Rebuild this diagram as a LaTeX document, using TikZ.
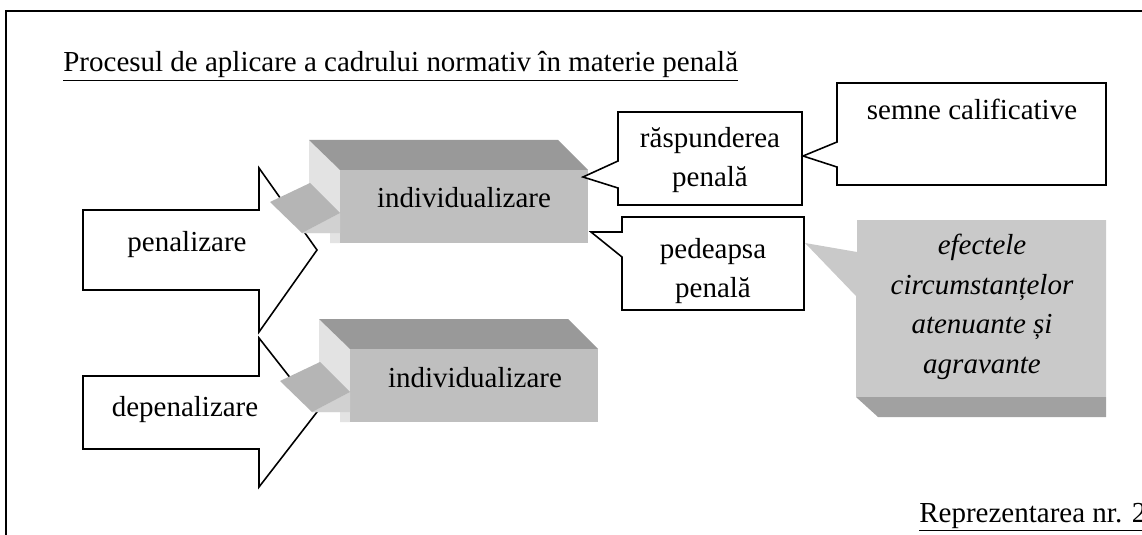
\documentclass[tikz,border=0pt]{standalone}
\usepackage{fontspec}
\setmainfont{Liberation Serif}
\usepackage{tikz}
\definecolor{boxtop}{gray}{0.6}
\definecolor{boxfront}{gray}{0.75}
\definecolor{boxside}{gray}{0.89}
\definecolor{boxflap}{gray}{0.71}
\definecolor{flapedge}{gray}{0.82}
\definecolor{calloutfill}{gray}{0.79}
\definecolor{calloutbase}{gray}{0.63}

\begin{document}
\begin{tikzpicture}[scale=0.2]
\tikzstyle{every node}+=[inner sep=0pt, align=center, font=\fontsize{16.5}{21.9}\selectfont]
\useasboundingbox (0,0) rectangle (114.2,-53.5);
\draw [black, line width=1.1pt] (0.6,-53.5) -- (0.6,-1.1) -- (114.6,-1.1);
\draw (6.3,-7.2) node [anchor=base west] (title) {\underline{Procesul de aplicare a cadrului normativ în materie penală}};
\draw [black, line width=0.9pt, fill=white] (8.3,-21) -- (25.9,-21) -- (25.9,-16.8) -- (31.7,-25) -- (25.9,-33.2) -- (25.9,-29) -- (8.3,-29) -- cycle;
\draw (18.7,-24.5) node (pen) {penalizare};
\draw [black, line width=0.9pt, fill=white] (8.3,-37.6) -- (25.9,-37.6) -- (25.9,-33.8) -- (31.7,-41.2) -- (25.9,-48.7) -- (25.9,-44.9) -- (8.3,-44.9) -- cycle;
\draw (18.5,-41) node (depen) {depenalizare};
\fill [boxside] (30.9,-14) -- (34,-17) -- (34,-24.3) -- (33,-24.3) -- (33,-23.3) -- (30.2,-23.3) -- (30.9,-18.3) -- cycle;
\fill [boxtop] (30.9,-14) -- (55.8,-14) -- (58.8,-17) -- (34,-17) -- cycle;
\fill [boxfront] (34,-17) rectangle (58.8,-24.3);
\fill [flapedge] (30.2,-23.3) -- (34,-21.3) -- (34,-23.3) -- cycle;
\fill [boxflap] (27,-20.2) -- (31,-18.3) -- (34,-21.3) -- (30.2,-23.3) -- cycle;
\draw (46.4,-19.8) node (indiv1) {individualizare};
\fill [boxside] (31.9,-31.9) -- (35,-34.9) -- (35,-42.2) -- (34,-42.2) -- (34,-41.2) -- (31.2,-41.2) -- (31.9,-36.2) -- cycle;
\fill [boxtop] (31.9,-31.9) -- (56.8,-31.9) -- (59.8,-34.9) -- (35,-34.9) -- cycle;
\fill [boxfront] (35,-34.9) rectangle (59.8,-42.2);
\fill [flapedge] (31.2,-41.2) -- (35,-39.2) -- (35,-41.2) -- cycle;
\fill [boxflap] (28,-38.1) -- (32,-36.2) -- (35,-39.2) -- (31.2,-41.2) -- cycle;
\draw (47.5,-37.8) node (indiv2) {individualizare};
\draw [black, line width=0.9pt, fill=white] (61.8,-11.2) -- (80.2,-11.2) -- (80.2,-20.5) -- (61.8,-20.5) -- (61.8,-18.8) -- (58.3,-17.7) -- (61.8,-16.1) -- cycle;
\draw (71,-16) node (rasp) {răspunderea\\penală};
\draw [black, line width=0.9pt, fill=white] (62.2,-21.7) -- (80.4,-21.7) -- (80.4,-31) -- (62.2,-31) -- (62.2,-25.7) -- (59.1,-23.2) -- (62.2,-23.2) -- cycle;
\draw (71.3,-27.1) node [font=\fontsize{16.5}{22.3}\selectfont] (pedeapsa) {pedeapsa\\penală};
\draw [black, line width=0.9pt, fill=white] (83.7,-8.3) -- (110.6,-8.3) -- (110.6,-18.5) -- (83.7,-18.5) -- (83.7,-16.7) -- (80.3,-15.6) -- (83.7,-14.2) -- cycle;
\draw (97.2,-12) node [anchor=base] (semne) {semne calificative};
\fill [calloutfill] (85.7,-22) -- (110.6,-22) -- (110.6,-39.7) -- (85.6,-39.7) -- (85.6,-29.6) -- (80.5,-24.3) -- (85.7,-25.2) -- cycle;
\fill [calloutbase] (85.6,-39.7) -- (110.6,-39.7) -- (110.6,-41.7) -- (87.8,-41.7) -- cycle;
\draw (98.2,-30.7) node [font=\fontsize{16.5}{22.6}\selectfont\itshape] (efecte) {efectele\\circumstanțelor\\atenuante și\\agravante};
\draw (91.9,-52.2) node [anchor=base west] (nr) {\underline{Reprezentarea nr. 2}};
\end{tikzpicture}
\end{document}
